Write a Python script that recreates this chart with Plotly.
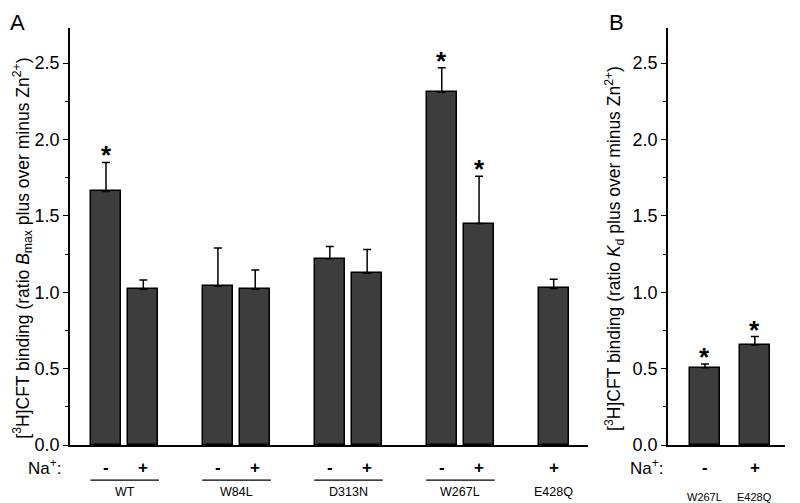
import plotly.graph_objects as go

# panel A data
groups_a = ["WT", "WT", "W84L", "W84L", "D313N", "D313N", "W267L", "W267L", "E428Q"]
na_a = ["-", "+", "-", "+", "-", "+", "-", "+", "+"]
bmax_ratio = [1.66, 1.02, 1.04, 1.02, 1.22, 1.125, 2.31, 1.45, 1.025]
bmax_err = [0.19, 0.06, 0.25, 0.125, 0.08, 0.155, 0.16, 0.31, 0.06]
star_a = [True, False, False, False, False, False, True, True, False]

# panel B data
groups_b = ["W267L", "E428Q"]
na_b = ["-", "+"]
kd_ratio = [0.505, 0.655]
kd_err = [0.025, 0.055]
star_b = [True, True]

title_a = "[<sup>3</sup>H]CFT binding (ratio <i>B</i><sub>max</sub> plus over minus Zn<sup>2+</sup>)"
title_b = "[<sup>3</sup>H]CFT binding (ratio <i>K</i><sub>d</sub> plus over minus Zn<sup>2+</sup>)"

font = "Liberation Sans, Arial, sans-serif"
bar_col = "#3d3d3d"

# slot positions: groups separated by one empty slot
order = []
for g in groups_a:
    if g not in order:
        order.append(g)
xa = []
seen = {}
for g in groups_a:
    k = seen.get(g, 0)
    xa.append(order.index(g) * 3 + k)
    seen[g] = k + 1
xb = list(range(len(groups_b)))

fig = go.Figure()
fig.add_trace(go.Bar(
    x=xa, y=bmax_ratio, width=0.8, marker=dict(color=bar_col, line=dict(color="black", width=1.5)),
    error_y=dict(type="data", array=bmax_err, arrayminus=[0] * len(bmax_err), symmetric=False,
                 color="black", thickness=1.5, width=4),
    xaxis="x", yaxis="y", showlegend=False))
fig.add_trace(go.Bar(
    x=xb, y=kd_ratio, width=0.6, marker=dict(color=bar_col, line=dict(color="black", width=1.5)),
    error_y=dict(type="data", array=kd_err, arrayminus=[0] * len(kd_err), symmetric=False,
                 color="black", thickness=1.5, width=4),
    xaxis="x2", yaxis="y2", showlegend=False))

ann = []
shapes = []


def txt(x, y, xref, yref, text, size, **kw):
    d = dict(x=x, y=y, xref=xref, yref=yref, text=text, showarrow=False,
             xanchor="center", yanchor="middle", font=dict(size=size, family=font, color="black"))
    d.update(kw)
    ann.append(d)


# stars
for x, v, e, s in zip(xa, bmax_ratio, bmax_err, star_a):
    if s:
        txt(x, v + e, "x", "y", "<b>*</b>", 26, yanchor="bottom", yshift=-10)
for x, v, e, s in zip(xb, kd_ratio, kd_err, star_b):
    if s:
        txt(x, v + e, "x2", "y2", "<b>*</b>", 26, yanchor="bottom", yshift=-10)

# Na+ signs
sign_y = -0.053
for x, s in zip(xa, na_a):
    txt(x, sign_y, "x", "paper", "<b>%s</b>" % s, 17)
for x, s in zip(xb, na_b):
    txt(x, sign_y, "x2", "paper", "<b>%s</b>" % s, 17)
txt(0.069, sign_y, "paper", "paper", "Na<sup>+</sup>:", 17, xanchor="right")
txt(0.821, sign_y, "paper", "paper", "Na<sup>+</sup>:", 17, xanchor="right")

# group labels and underlines
for g in order:
    xs = [x for x, gg in zip(xa, groups_a) if gg == g]
    txt((min(xs) + max(xs)) / 2, -0.113, "x", "paper", g, 12.5)
    if len(xs) > 1:
        shapes.append(dict(type="line", xref="x", yref="paper", x0=min(xs) - 0.42, x1=max(xs) + 0.42,
                           y0=-0.084, y1=-0.084, line=dict(color="black", width=1.3)))
for x, g in zip(xb, groups_b):
    txt(x, -0.125, "x2", "paper", g, 11)

# y titles as rotated annotations
txt(0.0, 0.472, "paper", "paper", title_a, 17.5, textangle=-90, xanchor="left")
txt(0.739, 0.472, "paper", "paper", title_b, 17.5, textangle=-90, xanchor="left")

# panel letters
txt(0.0, 1.014, "paper", "paper", "A", 22, xanchor="left")
txt(0.749, 1.014, "paper", "paper", "B", 22, xanchor="left")

yax = dict(range=[0, 2.73], tick0=0, dtick=0.5, tickformat=".1f",
           ticks="outside", ticklen=5, tickwidth=1.3, showline=True, linecolor="black", linewidth=1.5,
           showgrid=False, zeroline=False, tickfont=dict(size=18, family=font, color="black"),
           minor=dict(dtick=0.25, tick0=0, ticks="outside", ticklen=3, tickwidth=1.2, tickcolor="black",
                      showgrid=False),
           tickcolor="black")

fig.update_layout(
    width=800, height=503, plot_bgcolor="white", paper_bgcolor="white",
    margin=dict(l=0, r=0, t=20, b=66), bargap=0,
    xaxis=dict(domain=[0.0775, 0.725], range=[-0.965, 12.92], showticklabels=False, ticks="",
               showline=True, linecolor="black", linewidth=1.5, showgrid=False, zeroline=False),
    xaxis2=dict(domain=[0.825, 0.971], range=[-0.74, 1.6], showticklabels=False, ticks="",
                showline=True, linecolor="black", linewidth=1.5, showgrid=False, zeroline=False),
    yaxis=dict(anchor="x", **yax),
    yaxis2=dict(anchor="x2", **yax),
    annotations=ann, shapes=shapes,
)

fig.write_html("out.html")
